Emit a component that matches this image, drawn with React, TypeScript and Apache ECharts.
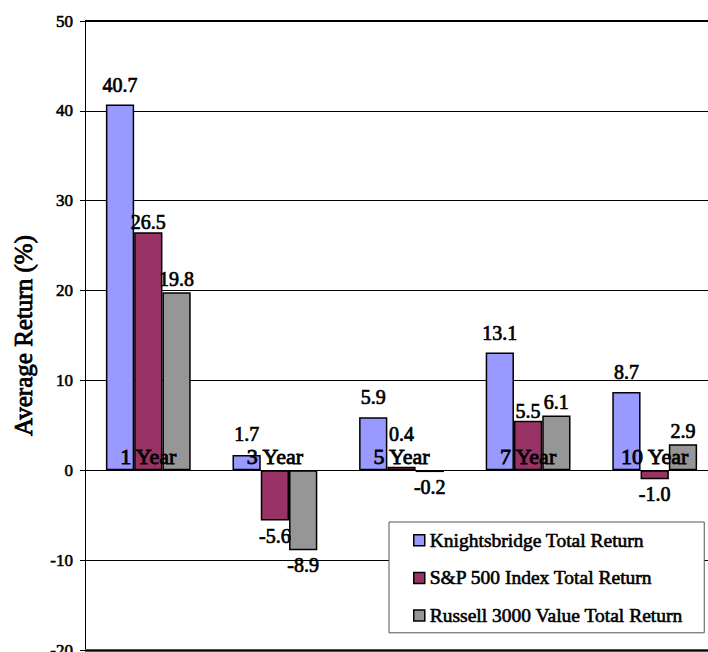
import React, { useEffect, useRef } from "react";
import * as echarts from "echarts";

const categories = ["1 Year", "3 Year", "5 Year", "7 Year", "10 Year"];
const seriesNames = [
  "Knightsbridge Total Return",
  "S&P 500 Index Total Return",
  "Russell 3000 Value Total Return",
];
const knightsbridge = [40.7, 1.7, 5.9, 13.1, 8.7];
const sp500 = [26.5, -5.6, 0.4, 5.5, -1.0];
const russell = [19.8, -8.9, -0.2, 6.1, 2.9];
const yMin = -20;
const yMax = 50;
const yInterval = 10;
const yAxisTitle = "Average Return (%)";

const FONT = "Liberation Serif";
const colors = ["#9999FF", "#993366", "#969696"];
const topGaps = [10, 0, 3];

// faux-bold: Liberation Serif regular with a thin black outline
const boldText = (size: number, stroke = 0.7) => ({
  fontFamily: FONT,
  fontSize: size,
  color: "#000",
  textBorderColor: "#000",
  textBorderWidth: stroke,
});

export default function App() {
  const ref = useRef<HTMLDivElement>(null);

  useEffect(() => {
    if (!ref.current) return;
    const chart = echarts.init(ref.current, undefined, { renderer: "svg" });
    const gridTop = 21;
    const gridBottom = 2;
    const plotH = 652 - gridTop - gridBottom;
    const pxPerUnit = plotH / (yMax - yMin);
    const zeroFromBottom = (0 - yMin) * pxPerUnit;

    const makeData = (vals: number[], si: number) =>
      vals.map((v) => ({
        value: v,
        label: {
          position: v >= 0 ? "top" : "bottom",
          distance: v >= 0 ? Math.max(topGaps[si], 26 - v * pxPerUnit) : 5,
        },
      }));

    const all = [knightsbridge, sp500, russell];

    chart.setOption({
      animation: false,
      backgroundColor: "#fff",
      grid: {
        left: 85,
        right: -10,
        top: gridTop,
        bottom: gridBottom,
        containLabel: false,
        outerBoundsMode: "none",
      },
      legend: {
        orient: "vertical",
        left: 389,
        top: 522,
        backgroundColor: "#fff",
        borderColor: "#555",
        borderWidth: 1,
        padding: [8, 21, 7, 24],
        itemGap: 17,
        itemWidth: 11,
        itemHeight: 11,
        icon: "rect",
        data: seriesNames,
        textStyle: boldText(19.5, 0.6),
        itemStyle: { borderColor: "#000", borderWidth: 1.5 },
      },
      xAxis: {
        type: "category",
        data: categories,
        z: 10,
        axisLine: { onZero: false, lineStyle: { color: "#000", width: 1 } },
        axisTick: { show: false },
        axisLabel: {
          margin: -(zeroFromBottom + 3),
          verticalAlign: "bottom",
          ...boldText(22, 0.8),
        },
      },
      yAxis: {
        type: "value",
        min: yMin,
        max: yMax,
        interval: yInterval,
        name: yAxisTitle,
        nameLocation: "middle",
        nameRotate: 90,
        nameGap: 49,
        nameTextStyle: boldText(25, 0.8),
        axisLine: { show: true, lineStyle: { color: "#000", width: 1 } },
        axisTick: { show: true, length: 5, lineStyle: { color: "#000" } },
        axisLabel: {
          margin: 12,
          ...boldText(17, 0.6),
        },
        splitLine: { show: true, lineStyle: { color: "#000", width: 1 } },
      },
      series: all.map((vals, si) => ({
        name: seriesNames[si],
        type: "bar",
        barGap: "0%",
        barCategoryGap: "33%",
        itemStyle: { color: colors[si], borderColor: "#000", borderWidth: 1.5 },
        label: {
          show: true,
          ...boldText(20, 0.7),
          formatter: (p: any) => Number(p.value).toFixed(1),
        },
        data: makeData(vals, si),
        markLine:
          si === 0
            ? {
                silent: true,
                symbol: "none",
                label: { show: false },
                data: [
                  { yAxis: yMin, lineStyle: { color: "#555", width: 3, type: "solid" } },
                  { yAxis: yMax, lineStyle: { color: "#000", width: 2, type: "solid" } },
                ],
              }
            : undefined,
      })),
    });

    return () => chart.dispose();
  }, []);

  return (
    <div
      ref={ref}
      style={{ position: "absolute", left: 0, top: 0, width: 708, height: 652 }}
    />
  );
}
